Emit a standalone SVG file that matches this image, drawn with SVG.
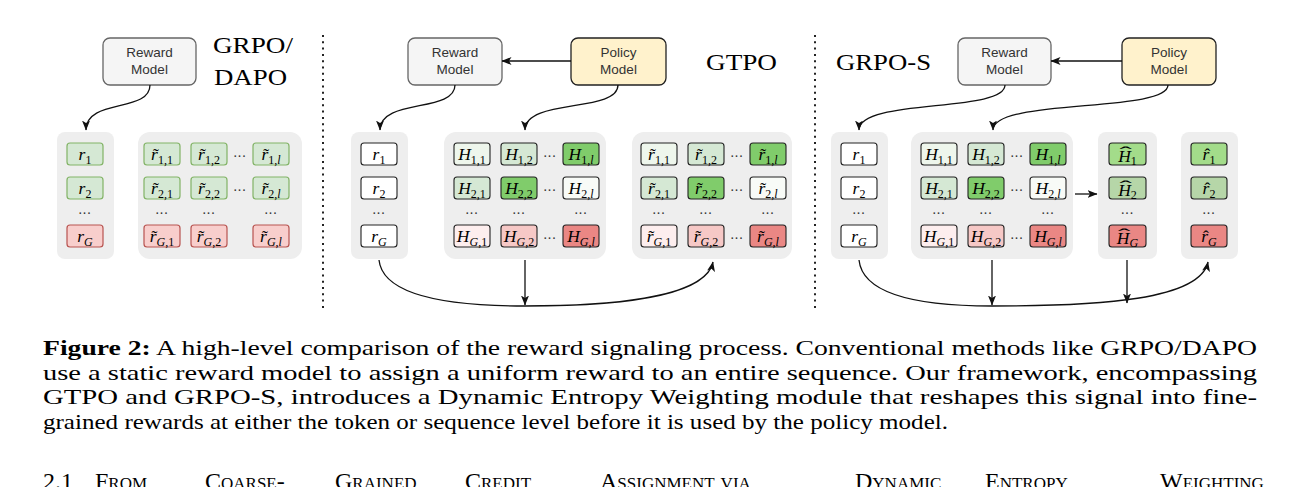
<svg xmlns="http://www.w3.org/2000/svg" width="1300" height="487" viewBox="0 0 1300 487">
<defs>
<marker id="ah" viewBox="0 0 10 8" markerWidth="10" markerHeight="8" refX="9.5" refY="4" orient="auto" markerUnits="userSpaceOnUse"><path d="M0,0 L10,4 L0,8 L2.5,4 Z" fill="#111"/></marker>
<style>
.bg{fill:#eeeeee}
.rm{fill:#f5f5f5;stroke:#666;stroke-width:1.3}
.pm{fill:#fff2cc;stroke:#222;stroke-width:1.3}
.lb{font-family:"Liberation Sans",Arial,sans-serif;font-size:13.5px;fill:#333;text-anchor:middle}
.tt{font-family:"Liberation Serif","Times New Roman",serif;font-size:23px;fill:#000}
.c{stroke:#222;stroke-width:1.1}
.lg{fill:#d5e8d4;stroke:#82b366;stroke-width:1.2}
.lr{fill:#f8cecc;stroke:#b85450;stroke-width:1.2}
.w{fill:#fff}
.g0{fill:#eef6ec}
.w0{fill:#f8fbf7}
.g1{fill:#d5e8d4}
.g2{fill:#80cc6b}
.r0{fill:#fdeeee}
.r1{fill:#f6c8c6}
.r2{fill:#ea8784}
.ha{fill:#a3dc8a}
.hb{fill:#b6d6a8}
.m{font-family:"Liberation Serif","Times New Roman",serif;font-style:italic;font-size:17.5px;fill:#000;text-anchor:middle}
.s{font-size:12px;font-style:normal}
.si{font-size:12px}
.ac{font-family:"Liberation Serif","Times New Roman",serif;font-size:17.5px;fill:#000;text-anchor:middle}
.d{font-family:"Liberation Serif","Times New Roman",serif;font-size:14px;fill:#333;text-anchor:middle;letter-spacing:0.8px}
.ln{fill:none;stroke:#111;stroke-width:1.3}
.sep{stroke:#222;stroke-width:2;stroke-dasharray:2 4.3}
.cap{font-family:"Liberation Serif","Times New Roman",serif;font-size:22px;fill:#000}
.hd{font-family:"Liberation Serif","Times New Roman",serif;font-size:24px;fill:#000;font-variant:small-caps}
</style>
</defs>
<rect width="1300" height="487" fill="#fff"/>

<g id="separators">
<line class="sep" x1="323" y1="35" x2="323" y2="308"/>
<line class="sep" x1="815" y1="35" x2="815" y2="308"/>
</g>

<g id="titles">
<text class="tt" x="213" y="53" textLength="80" lengthAdjust="spacingAndGlyphs">GRPO/</text>
<text class="tt" x="214" y="85" textLength="73" lengthAdjust="spacingAndGlyphs">DAPO</text>
<text class="tt" x="706" y="70" textLength="71" lengthAdjust="spacingAndGlyphs">GTPO</text>
<text class="tt" x="836" y="70" textLength="95" lengthAdjust="spacingAndGlyphs">GRPO-S</text>
</g>

<g id="l-reward"><rect class="rm" x="103" y="38" width="93" height="47" rx="7"/><text class="lb" x="149.5" y="57">Reward</text><text class="lb" x="149.5" y="74">Model</text></g>
<g id="m-reward"><rect class="rm" x="408" y="38" width="94" height="47" rx="7"/><text class="lb" x="455" y="57">Reward</text><text class="lb" x="455" y="74">Model</text></g>
<g id="m-policy"><rect class="pm" x="571" y="38" width="95" height="47" rx="7"/><text class="lb" x="618.5" y="57">Policy</text><text class="lb" x="618.5" y="74">Model</text></g>
<g id="s-reward"><rect class="rm" x="958" y="38" width="93" height="47" rx="7"/><text class="lb" x="1004.5" y="57">Reward</text><text class="lb" x="1004.5" y="74">Model</text></g>
<g id="s-policy"><rect class="pm" x="1122" y="38" width="94" height="47" rx="7"/><text class="lb" x="1169" y="57">Policy</text><text class="lb" x="1169" y="74">Model</text></g>

<g id="panels">
<rect class="bg" x="57" y="132" width="57" height="127" rx="8"/>
<rect class="bg" x="138" y="132" width="164" height="127" rx="12"/>
<rect class="bg" x="351" y="132" width="57" height="127" rx="8"/>
<rect class="bg" x="444" y="132" width="162" height="127" rx="12"/>
<rect class="bg" x="632" y="132" width="160" height="127" rx="12"/>
<rect class="bg" x="831" y="132" width="57" height="127" rx="8"/>
<rect class="bg" x="911" y="132" width="162" height="127" rx="12"/>
<rect class="bg" x="1098" y="132" width="59" height="127" rx="8"/>
<rect class="bg" x="1181" y="132" width="57" height="127" rx="8"/>
</g>

<!-- LEFT PANEL -->
<g id="l-r1"><rect class="lg" x="67" y="143" width="36" height="22" rx="3"/><text class="m" x="85" y="160">r<tspan class="s" dy="3.5">1</tspan></text></g>
<g id="l-r2"><rect class="lg" x="67" y="177" width="36" height="22" rx="3"/><text class="m" x="85" y="194">r<tspan class="s" dy="3.5">2</tspan></text></g>
<g id="l-rG"><rect class="lr" x="67" y="225" width="36" height="22" rx="3"/><text class="m" x="85" y="242">r<tspan class="si" dy="3.5">G</tspan></text></g>

<g id="l-t11"><rect class="lg" x="144" y="143" width="36" height="22" rx="3"/><text class="m" x="162" y="160">r<tspan class="s" dy="3.5">1,1</tspan></text><text class="ac" x="155.8" y="160">˜</text></g>
<g id="l-t12"><rect class="lg" x="191" y="143" width="36" height="22" rx="3"/><text class="m" x="209" y="160">r<tspan class="s" dy="3.5">1,2</tspan></text><text class="ac" x="202.8" y="160">˜</text></g>
<g id="l-t1l"><rect class="lg" x="253" y="143" width="36" height="22" rx="3"/><text class="m" x="271" y="160">r<tspan class="s" dy="3.5">1,</tspan><tspan class="si">l</tspan></text><text class="ac" x="266.1" y="160">˜</text></g>
<g id="l-t21"><rect class="lg" x="144" y="177" width="36" height="22" rx="3"/><text class="m" x="162" y="194">r<tspan class="s" dy="3.5">2,1</tspan></text><text class="ac" x="155.8" y="194">˜</text></g>
<g id="l-t22"><rect class="lg" x="191" y="177" width="36" height="22" rx="3"/><text class="m" x="209" y="194">r<tspan class="s" dy="3.5">2,2</tspan></text><text class="ac" x="202.8" y="194">˜</text></g>
<g id="l-t2l"><rect class="lg" x="253" y="177" width="36" height="22" rx="3"/><text class="m" x="271" y="194">r<tspan class="s" dy="3.5">2,</tspan><tspan class="si">l</tspan></text><text class="ac" x="266.1" y="194">˜</text></g>
<g id="l-tG1"><rect class="lr" x="144" y="225" width="36" height="22" rx="3"/><text class="m" x="162" y="242">r<tspan class="si" dy="3.5">G</tspan><tspan class="s">,1</tspan></text><text class="ac" x="154.5" y="242">˜</text></g>
<g id="l-tG2"><rect class="lr" x="191" y="225" width="36" height="22" rx="3"/><text class="m" x="209" y="242">r<tspan class="si" dy="3.5">G</tspan><tspan class="s">,2</tspan></text><text class="ac" x="201.5" y="242">˜</text></g>
<g id="l-tGl"><rect class="lr" x="253" y="225" width="36" height="22" rx="3"/><text class="m" x="271" y="242">r<tspan class="si" dy="3.5">G</tspan><tspan class="s">,</tspan><tspan class="si">l</tspan></text><text class="ac" x="264.8" y="242">˜</text></g>

<g id="l-dots">
<text class="d" x="85" y="214">...</text>
<text class="d" x="162" y="214">...</text><text class="d" x="209" y="214">...</text><text class="d" x="271" y="214">...</text>
<text class="d" x="240" y="157">...</text><text class="d" x="240" y="191">...</text>
</g>

<!-- MIDDLE PANEL -->
<g id="m-r1"><rect class="c w" x="361" y="143" width="36" height="22" rx="3"/><text class="m" x="379" y="160">r<tspan class="s" dy="3.5">1</tspan></text></g>
<g id="m-r2"><rect class="c w" x="361" y="177" width="36" height="22" rx="3"/><text class="m" x="379" y="194">r<tspan class="s" dy="3.5">2</tspan></text></g>
<g id="m-rG"><rect class="c w" x="361" y="225" width="36" height="22" rx="3"/><text class="m" x="379" y="242">r<tspan class="si" dy="3.5">G</tspan></text></g>

<g id="m-H11"><rect class="c g0" x="454" y="143" width="36" height="22" rx="3"/><text class="m" x="472" y="160">H<tspan class="s" dy="3.5">1,1</tspan></text></g>
<g id="m-H12"><rect class="c g1" x="501" y="143" width="36" height="22" rx="3"/><text class="m" x="519" y="160">H<tspan class="s" dy="3.5">1,2</tspan></text></g>
<g id="m-H1l"><rect class="c g2" x="563" y="143" width="36" height="22" rx="3"/><text class="m" x="581" y="160">H<tspan class="s" dy="3.5">1,</tspan><tspan class="si">l</tspan></text></g>
<g id="m-H21"><rect class="c g1" x="454" y="177" width="36" height="22" rx="3"/><text class="m" x="472" y="194">H<tspan class="s" dy="3.5">2,1</tspan></text></g>
<g id="m-H22"><rect class="c g2" x="501" y="177" width="36" height="22" rx="3"/><text class="m" x="519" y="194">H<tspan class="s" dy="3.5">2,2</tspan></text></g>
<g id="m-H2l"><rect class="c w0" x="563" y="177" width="36" height="22" rx="3"/><text class="m" x="581" y="194">H<tspan class="s" dy="3.5">2,</tspan><tspan class="si">l</tspan></text></g>
<g id="m-HG1"><rect class="c r0" x="454" y="225" width="36" height="22" rx="3"/><text class="m" x="472" y="242">H<tspan class="si" dy="3.5">G</tspan><tspan class="s">,1</tspan></text></g>
<g id="m-HG2"><rect class="c r1" x="501" y="225" width="36" height="22" rx="3"/><text class="m" x="519" y="242">H<tspan class="si" dy="3.5">G</tspan><tspan class="s">,2</tspan></text></g>
<g id="m-HGl"><rect class="c r2" x="563" y="225" width="36" height="22" rx="3"/><text class="m" x="581" y="242">H<tspan class="si" dy="3.5">G</tspan><tspan class="s">,</tspan><tspan class="si">l</tspan></text></g>

<g id="m-t11"><rect class="c g0" x="641" y="143" width="36" height="22" rx="3"/><text class="m" x="659" y="160">r<tspan class="s" dy="3.5">1,1</tspan></text><text class="ac" x="652.8" y="160">˜</text></g>
<g id="m-t12"><rect class="c g1" x="688" y="143" width="36" height="22" rx="3"/><text class="m" x="706" y="160">r<tspan class="s" dy="3.5">1,2</tspan></text><text class="ac" x="699.8" y="160">˜</text></g>
<g id="m-t1l"><rect class="c g2" x="750" y="143" width="36" height="22" rx="3"/><text class="m" x="768" y="160">r<tspan class="s" dy="3.5">1,</tspan><tspan class="si">l</tspan></text><text class="ac" x="763.1" y="160">˜</text></g>
<g id="m-t21"><rect class="c g1" x="641" y="177" width="36" height="22" rx="3"/><text class="m" x="659" y="194">r<tspan class="s" dy="3.5">2,1</tspan></text><text class="ac" x="652.8" y="194">˜</text></g>
<g id="m-t22"><rect class="c g2" x="688" y="177" width="36" height="22" rx="3"/><text class="m" x="706" y="194">r<tspan class="s" dy="3.5">2,2</tspan></text><text class="ac" x="699.8" y="194">˜</text></g>
<g id="m-t2l"><rect class="c w0" x="750" y="177" width="36" height="22" rx="3"/><text class="m" x="768" y="194">r<tspan class="s" dy="3.5">2,</tspan><tspan class="si">l</tspan></text><text class="ac" x="763.1" y="194">˜</text></g>
<g id="m-tG1"><rect class="c r0" x="641" y="225" width="36" height="22" rx="3"/><text class="m" x="659" y="242">r<tspan class="si" dy="3.5">G</tspan><tspan class="s">,1</tspan></text><text class="ac" x="651.5" y="242">˜</text></g>
<g id="m-tG2"><rect class="c r1" x="688" y="225" width="36" height="22" rx="3"/><text class="m" x="706" y="242">r<tspan class="si" dy="3.5">G</tspan><tspan class="s">,2</tspan></text><text class="ac" x="698.5" y="242">˜</text></g>
<g id="m-tGl"><rect class="c r2" x="750" y="225" width="36" height="22" rx="3"/><text class="m" x="768" y="242">r<tspan class="si" dy="3.5">G</tspan><tspan class="s">,</tspan><tspan class="si">l</tspan></text><text class="ac" x="761.8" y="242">˜</text></g>

<g id="m-dots">
<text class="d" x="379" y="214">...</text>
<text class="d" x="472" y="214">...</text><text class="d" x="519" y="214">...</text><text class="d" x="581" y="214">...</text>
<text class="d" x="550" y="157">...</text><text class="d" x="550" y="191">...</text><text class="d" x="550" y="239">...</text>
<text class="d" x="659" y="214">...</text><text class="d" x="706" y="214">...</text><text class="d" x="768" y="214">...</text>
<text class="d" x="737" y="157">...</text><text class="d" x="737" y="191">...</text><text class="d" x="737" y="239">...</text>
</g>

<!-- RIGHT PANEL -->
<g id="s-r1"><rect class="c w" x="841" y="143" width="36" height="22" rx="3"/><text class="m" x="859" y="160">r<tspan class="s" dy="3.5">1</tspan></text></g>
<g id="s-r2"><rect class="c w" x="841" y="177" width="36" height="22" rx="3"/><text class="m" x="859" y="194">r<tspan class="s" dy="3.5">2</tspan></text></g>
<g id="s-rG"><rect class="c w" x="841" y="225" width="36" height="22" rx="3"/><text class="m" x="859" y="242">r<tspan class="si" dy="3.5">G</tspan></text></g>

<g id="s-H11"><rect class="c g0" x="921" y="143" width="36" height="22" rx="3"/><text class="m" x="939" y="160">H<tspan class="s" dy="3.5">1,1</tspan></text></g>
<g id="s-H12"><rect class="c g1" x="968" y="143" width="36" height="22" rx="3"/><text class="m" x="986" y="160">H<tspan class="s" dy="3.5">1,2</tspan></text></g>
<g id="s-H1l"><rect class="c g2" x="1030" y="143" width="36" height="22" rx="3"/><text class="m" x="1048" y="160">H<tspan class="s" dy="3.5">1,</tspan><tspan class="si">l</tspan></text></g>
<g id="s-H21"><rect class="c g1" x="921" y="177" width="36" height="22" rx="3"/><text class="m" x="939" y="194">H<tspan class="s" dy="3.5">2,1</tspan></text></g>
<g id="s-H22"><rect class="c g2" x="968" y="177" width="36" height="22" rx="3"/><text class="m" x="986" y="194">H<tspan class="s" dy="3.5">2,2</tspan></text></g>
<g id="s-H2l"><rect class="c w0" x="1030" y="177" width="36" height="22" rx="3"/><text class="m" x="1048" y="194">H<tspan class="s" dy="3.5">2,</tspan><tspan class="si">l</tspan></text></g>
<g id="s-HG1"><rect class="c r0" x="921" y="225" width="36" height="22" rx="3"/><text class="m" x="939" y="242">H<tspan class="si" dy="3.5">G</tspan><tspan class="s">,1</tspan></text></g>
<g id="s-HG2"><rect class="c r1" x="968" y="225" width="36" height="22" rx="3"/><text class="m" x="986" y="242">H<tspan class="si" dy="3.5">G</tspan><tspan class="s">,2</tspan></text></g>
<g id="s-HGl"><rect class="c r2" x="1030" y="225" width="36" height="22" rx="3"/><text class="m" x="1048" y="242">H<tspan class="si" dy="3.5">G</tspan><tspan class="s">,</tspan><tspan class="si">l</tspan></text></g>

<g id="s-Hh1"><rect class="c ha" x="1109" y="143" width="37" height="22" rx="3"/><text class="m" x="1127.5" y="161.5">H<tspan class="s" dy="3">1</tspan></text><text class="ac" transform="translate(1125.5,157.5) scale(2.1,1)">ˆ</text></g>
<g id="s-Hh2"><rect class="c hb" x="1109" y="177" width="37" height="22" rx="3"/><text class="m" x="1127.5" y="195.5">H<tspan class="s" dy="3">2</tspan></text><text class="ac" transform="translate(1125.5,191.5) scale(2.1,1)">ˆ</text></g>
<g id="s-HhG"><rect class="c r2" x="1109" y="225" width="37" height="22" rx="3"/><text class="m" x="1127.5" y="243.5">H<tspan class="si" dy="3">G</tspan></text><text class="ac" transform="translate(1124.2,239.5) scale(2.1,1)">ˆ</text></g>

<g id="s-rh1"><rect class="c ha" x="1191" y="143" width="36" height="22" rx="3"/><text class="m" x="1209" y="160">r<tspan class="s" dy="3.5">1</tspan></text><text class="ac" x="1207.3" y="160">ˆ</text></g>
<g id="s-rh2"><rect class="c hb" x="1191" y="177" width="36" height="22" rx="3"/><text class="m" x="1209" y="194">r<tspan class="s" dy="3.5">2</tspan></text><text class="ac" x="1207.3" y="194">ˆ</text></g>
<g id="s-rhG"><rect class="c r2" x="1191" y="225" width="36" height="22" rx="3"/><text class="m" x="1209" y="242">r<tspan class="si" dy="3.5">G</tspan></text><text class="ac" x="1206" y="242">ˆ</text></g>

<g id="s-dots">
<text class="d" x="859" y="214">...</text>
<text class="d" x="939" y="214">...</text><text class="d" x="986" y="214">...</text><text class="d" x="1048" y="214">...</text>
<text class="d" x="1017" y="157">...</text><text class="d" x="1017" y="191">...</text><text class="d" x="1017" y="239">...</text>
<text class="d" x="1127.5" y="214">...</text><text class="d" x="1209" y="214">...</text>
</g>

<!-- CONNECTORS -->
<g id="connectors">
<path class="ln" d="M150,85 C150,113 86,98 86,130" marker-end="url(#ah)"/>
<path class="ln" d="M571,61 L502,61" marker-end="url(#ah)"/>
<path class="ln" d="M455,85 C455,113 380,98 380,130" marker-end="url(#ah)"/>
<path class="ln" d="M618,85 C618,113 525,98 525,130" marker-end="url(#ah)"/>
<path class="ln" d="M379,260 C383,298 455,306 525,306 C600,306 705,300 713,262" marker-end="url(#ah)"/>
<path class="ln" d="M525,260 L525,305" marker-end="url(#ah)"/>
<path class="ln" d="M1122,61 L1051,61" marker-end="url(#ah)"/>
<path class="ln" d="M1005,85 C1005,113 859,98 859,130" marker-end="url(#ah)"/>
<path class="ln" d="M1168,85 C1168,113 993,98 993,130" marker-end="url(#ah)"/>
<path class="ln" d="M1075,194 L1097,194" marker-end="url(#ah)"/>
<path class="ln" d="M859,260 C863,298 930,306 992,306 C1100,306 1200,300 1208,262" marker-end="url(#ah)"/>
<path class="ln" d="M992,260 L992,305" marker-end="url(#ah)"/>
<path class="ln" d="M1127,260 L1127,303" marker-end="url(#ah)"/>
</g>

<!-- CAPTION -->
<g id="caption">
<text class="cap" x="43" y="355" textLength="1214" lengthAdjust="spacingAndGlyphs"><tspan font-weight="bold">Figure 2:</tspan> A high-level comparison of the reward signaling process. Conventional methods like GRPO/DAPO</text>
<text class="cap" x="43" y="379.5" textLength="1214" lengthAdjust="spacingAndGlyphs">use a static reward model to assign a uniform reward to an entire sequence.  Our framework, encompassing</text>
<text class="cap" x="43" y="404" textLength="1214" lengthAdjust="spacingAndGlyphs">GTPO and GRPO-S, introduces a Dynamic Entropy Weighting module that reshapes this signal into fine-</text>
<text class="cap" x="43" y="428.5" textLength="905" lengthAdjust="spacingAndGlyphs">grained rewards at either the token or sequence level before it is used by the policy model.</text>
<text class="hd" y="489"><tspan x="43">2.1</tspan><tspan x="95">From</tspan><tspan x="205">Coarse-</tspan><tspan x="335">Grained</tspan><tspan x="465">Credit</tspan><tspan x="600">Assignment via</tspan><tspan x="855">Dynamic</tspan><tspan x="985">Entropy</tspan><tspan x="1160">Weighting</tspan></text>
</g>
</svg>
